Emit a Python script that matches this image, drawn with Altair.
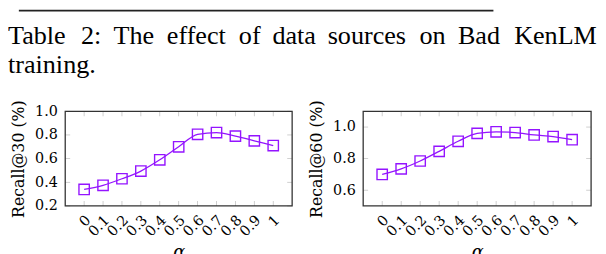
import altair as alt
import pandas as pd

# ---- data ----
alpha = [0, 0.1, 0.2, 0.3, 0.4, 0.5, 0.6, 0.7, 0.8, 0.9, 1.0]
recall30 = [0.34, 0.375, 0.43, 0.495, 0.59, 0.70, 0.805, 0.82, 0.79, 0.75, 0.71]
recall60 = [0.70, 0.735, 0.785, 0.846, 0.91, 0.96, 0.97, 0.965, 0.95, 0.94, 0.92]
yticks30 = [0.2, 0.4, 0.6, 0.8, 1.0]
yticks60 = [0.6, 0.8, 1.0]
ydomain30 = [0.2, 1.0]
ydomain60 = [0.5, 1.1]
xdomain = [-0.1, 1.1]
caption_words1 = ["Table", "2:", "The", "effect", "of", "data", "sources", "on", "Bad", "KenLM"]
caption_words2 = ["training."]
ytitle30 = "Recall@30 (%)"
ytitle60 = "Recall@60 (%)"
xtitle = "α"

# ---- layout / style ----
caption_x1 = [0, 74, 107, 161, 234, 268, 324, 417, 456, 513]
caption_x2 = [0]
CAP_Y1 = 35
CAP_Y2 = 64
PLOT_TOP = 103
PLOT_BOTTOM = 199
LEFT_RANGE = [58, 288]
RIGHT_RANGE = [360, 591]
PURPLE = "#9414ff"
SERIF = "DejaVu Serif"
CAPFONT = "Liberation Serif"


def panel(values, ytitle, ydomain, yticks, xr):
    df = pd.DataFrame({"alpha": alpha, "recall": values})
    xs = alt.Scale(domain=xdomain, range=xr, nice=False, zero=False)
    ys = alt.Scale(domain=ydomain, range=[PLOT_BOTTOM, PLOT_TOP], nice=False, zero=False)
    xaxis = alt.Axis(
        orient="bottom", values=alpha, format="~g", ticks=False, domain=False, grid=False,
        labelAngle=315, labelAlign="right", labelBaseline="middle", labelPadding=12,
        labelOffset=4, labelFlush=False, labelOverlap=False, labelBound=False,
        labelFont=SERIF, labelFontSize=14.5, labelColor="black",
        title=xtitle, titleFont=SERIF, titleFontStyle="italic", titleFontSize=18,
        titleFontWeight="normal", titleColor="black", titleBaseline="alphabetic",
        titleY=52,
    )
    yaxis = alt.Axis(
        orient="left", offset=-xr[0], values=yticks, format=".1f", ticks=False,
        domain=False, grid=False, labelPadding=8, labelFont=SERIF, labelFontSize=14.5,
        labelColor="black", labelFlush=False, labelOverlap=False,
        title=ytitle, titleFont=SERIF, titleFontSize=16, titleFontWeight="normal",
        titleColor="black", titleAngle=270, titleBaseline="middle", titleAlign="center",
        titleX=-47, titleY=(PLOT_TOP + PLOT_BOTTOM) / 2,
    )

    line = alt.Chart(df).mark_line(color=PURPLE, strokeWidth=1.3, interpolate="monotone").encode(
        x=alt.X("alpha:Q", scale=xs, axis=xaxis), y=alt.Y("recall:Q", scale=ys, axis=yaxis))
    pts = alt.Chart(df).mark_point(shape="square", filled=False, size=110, strokeWidth=1.4,
                                   color=PURPLE, opacity=1).encode(
        x=alt.X("alpha:Q", scale=xs, axis=xaxis), y=alt.Y("recall:Q", scale=ys, axis=yaxis))

    tdf = pd.DataFrame({"alpha": alpha})
    xt_bot = alt.Chart(tdf).mark_tick(orient="vertical", size=5, thickness=0.8, color="#aaaaaa",
                                      yOffset=-2.5).encode(
        x=alt.X("alpha:Q", scale=xs, axis=xaxis), y=alt.YDatum(ydomain[0], scale=ys, axis=yaxis))
    xt_top = alt.Chart(tdf).mark_tick(orient="vertical", size=5, thickness=0.8, color="#aaaaaa",
                                      yOffset=2.5).encode(
        x=alt.X("alpha:Q", scale=xs, axis=xaxis), y=alt.YDatum(ydomain[1], scale=ys, axis=yaxis))
    ydf = pd.DataFrame({"recall": yticks})
    yt_l = alt.Chart(ydf).mark_tick(orient="horizontal", size=5, thickness=0.8, color="#aaaaaa",
                                    xOffset=2.5).encode(
        y=alt.Y("recall:Q", scale=ys, axis=yaxis), x=alt.XDatum(xdomain[0], scale=xs, axis=xaxis))
    yt_r = alt.Chart(ydf).mark_tick(orient="horizontal", size=5, thickness=0.8, color="#aaaaaa",
                                    xOffset=-2.5).encode(
        y=alt.Y("recall:Q", scale=ys, axis=yaxis), x=alt.XDatum(xdomain[1], scale=xs, axis=xaxis))
    frame = alt.Chart(pd.DataFrame({"k": [0]})).mark_rect(
        filled=False, stroke="#333333", strokeWidth=1.3).encode(
        x=alt.XDatum(xdomain[0], scale=xs, axis=xaxis), x2=alt.X2Datum(xdomain[1]),
        y=alt.YDatum(ydomain[0], scale=ys, axis=yaxis), y2=alt.Y2Datum(ydomain[1]))
    return alt.layer(line, xt_bot, xt_top, yt_l, yt_r, pts, frame)


left = panel(recall30, ytitle30, ydomain30, yticks30, LEFT_RANGE)
right = panel(recall60, ytitle60, ydomain60, yticks60, RIGHT_RANGE)

cap1 = alt.Chart(pd.DataFrame({"w": caption_words1, "px": caption_x1})).mark_text(
    font=CAPFONT, fontSize=26.5, align="left", baseline="alphabetic", color="black").encode(
    x=alt.X("px:Q", scale=None, axis=None), y=alt.value(CAP_Y1), text="w:N")
cap2 = alt.Chart(pd.DataFrame({"w": caption_words2, "px": caption_x2})).mark_text(
    font=CAPFONT, fontSize=26.5, align="left", baseline="alphabetic", color="black").encode(
    x=alt.X("px:Q", scale=None, axis=None), y=alt.value(CAP_Y2), text="w:N")
rule = alt.Chart(pd.DataFrame({"k": [0]})).mark_rule(color="#222222", strokeWidth=2).encode(
    x=alt.value(11), x2=alt.value(492), y=alt.value(1))

chart = alt.layer(left, right, rule, cap1, cap2).resolve_scale(
    x="independent", y="independent"
).properties(
    width=598, height=199,
    autosize=alt.AutoSizeParams(type="none"),
    padding={"left": 0, "top": 0, "right": 0, "bottom": 47},
    background="white",
).configure_view(stroke=None)

chart.save("out.html", embed_options={"renderer": "svg", "actions": False})
